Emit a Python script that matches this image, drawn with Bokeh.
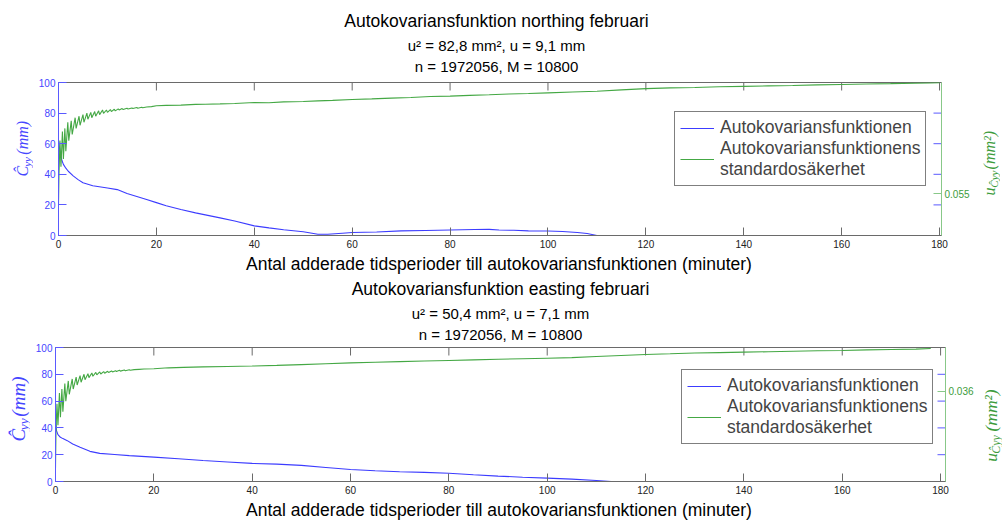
from math import pi
from bokeh.plotting import figure
from bokeh.models import Range1d, LinearAxis, FixedTicker, Label, Legend, LegendItem
from bokeh.layouts import column, row
from bokeh.embed import file_html
from bokeh.resources import INLINE

# ---------------- data ----------------
x_ticks = [0, 20, 40, 60, 80, 100, 120, 140, 160, 180]
y_ticks = [0, 20, 40, 60, 80, 100]
y_mirror_ticks = [20, 40, 60, 80]

top_titles = ["Autokovariansfunktion northing februari",
              "u\u00b2 = 82,8 mm\u00b2, u = 9,1 mm",
              "n = 1972056, M = 10800"]
bot_titles = ["Autokovariansfunktion easting februari",
              "u\u00b2 = 50,4 mm\u00b2, u = 7,1 mm",
              "n = 1972056, M = 10800"]
x_label = "Antal adderade tidsperioder till autokovariansfunktionen (minuter)"
legend_labels = ["Autokovariansfunktionen", "Autokovariansfunktionens\nstandardos\u00e4kerhet"]

top_right_ticks = [0.055]
bot_right_ticks = [0.036]

# top panel: autocovariance (mm)
top_bx = [0, 0.3, 0.7, 1, 1.5, 2, 3, 4, 5, 6, 7, 8, 10, 12, 14, 16, 18, 20, 22, 25,
          28, 30, 33, 36, 40, 43, 46, 50, 53, 55, 58, 60, 65, 70, 75, 80, 85, 88, 90, 93,
          96, 100, 103, 106, 108, 110]
top_b = [62, 55, 49, 46.5, 44, 42, 39, 36.5, 34.5, 33.5, 32.5, 32, 31, 30, 27.5, 25.5, 23.5, 21.5, 19.5, 17,
         14.8, 13.5, 11.5, 9.5, 6.3, 5, 3.8, 2.5, 0.8, 0.8, 1.5, 2, 2.3, 3, 3.3, 3.6, 3.9, 4, 3.6, 3.4,
         3, 2.9, 2.6, 2, 1.3, 0]

# top panel: standard uncertainty (mm^2)
top_gx = [0, 0.1, 0.3, 0.5, 0.8, 1.0, 1.3, 1.5, 1.9, 2.1,
          2.6, 2.8, 3.4, 3.6, 4.2, 4.4, 5.0, 5.2, 5.8, 6.0,
          6.6, 6.8, 7.4, 7.6, 8.2, 8.4, 9.0, 9.2, 9.8, 10.0,
          10.6, 10.8, 11.4, 11.6, 12.2, 12.4, 13.0, 13.2, 14, 14.2,
          15, 15.2, 16, 16.2, 17, 17.2,
          18, 19, 20, 22, 25, 28, 30, 33, 36, 40,
          43, 46, 50, 53, 56, 60, 64, 68, 72, 76,
          80, 84, 88, 92, 96, 100, 105, 110, 115, 120,
          125, 130, 135, 140, 145, 150, 155, 160, 165, 170,
          175, 178, 180]
top_g = [0.05366, 0.05732, 0.06135, 0.05824, 0.06244, 0.05915, 0.06281, 0.06007, 0.06354, 0.06135,
         0.06373, 0.06208, 0.06409, 0.06281, 0.06427, 0.06318, 0.06446, 0.06354, 0.06464, 0.06391,
         0.06473, 0.06409, 0.06482, 0.06427, 0.06491, 0.06446, 0.06501, 0.06460, 0.06501, 0.06473,
         0.06506, 0.06482, 0.06510, 0.06491, 0.06515, 0.06501, 0.06519, 0.06506, 0.06523, 0.06512,
         0.06526, 0.06519, 0.06530, 0.06523, 0.06534, 0.06528,
         0.06537, 0.06541, 0.06552, 0.06556, 0.06559, 0.06568, 0.06570, 0.06574, 0.06579, 0.06590,
         0.06588, 0.06598, 0.06603, 0.06610, 0.06616, 0.06627, 0.06634, 0.06643, 0.06651, 0.06662,
         0.06667, 0.06676, 0.06684, 0.06693, 0.06698, 0.06706, 0.06717, 0.06726, 0.06742, 0.06757,
         0.06766, 0.06771, 0.06779, 0.06784, 0.06790, 0.06795, 0.06801, 0.06806, 0.06812, 0.06817,
         0.06823, 0.06826, 0.06828]

# bottom panel: autocovariance (mm)
bot_bx = [0, 0.2, 0.5, 1, 1.5, 2.4, 3.5, 5, 7, 9, 12, 15, 20, 25, 30, 35, 40, 45, 50, 55,
          60, 65, 70, 75, 80, 85, 90, 95, 100, 105, 110, 113]
bot_b = [45, 38, 35, 33, 32, 30.5, 28, 25.5, 22.5, 21, 20.2, 19.3, 18.2, 17, 15.7, 14.6, 13.5, 13, 12, 10.5,
         9, 8, 7.3, 6.8, 6.2, 5, 4, 3.2, 2.5, 1.8, 0.7, 0]

# bottom panel: standard uncertainty (mm^2)
bot_gx = [0, 0.1, 0.3, 0.5, 0.8, 1.0, 1.3, 1.5, 1.9, 2.1,
          2.6, 2.8, 3.4, 3.6, 4.2, 4.4, 5.0, 5.2, 5.8, 6.0,
          6.6, 6.8, 7.4, 7.6, 8.2, 8.4, 9.0, 9.2, 9.8, 10.0,
          10.6, 10.8, 11.4, 11.6, 12.2, 12.4, 13, 13.2, 14, 14.2,
          15, 15.2,
          16, 17, 18, 20, 23, 26, 30, 35, 40, 45,
          50, 55, 60, 65, 70, 75, 80, 85, 90, 95,
          100, 105, 110, 115, 120, 125, 130, 135, 140, 145,
          150, 155, 160, 165, 170, 175, 178]
bot_g = [0.03089, 0.03338, 0.03516, 0.03374, 0.03587, 0.03427, 0.03614, 0.03463, 0.03650, 0.03534,
         0.03668, 0.03579, 0.03681, 0.03614, 0.03694, 0.03641, 0.03703, 0.03659, 0.03712, 0.03676,
         0.03716, 0.03690, 0.03721, 0.03699, 0.03725, 0.03708, 0.03728, 0.03714, 0.03730, 0.03719,
         0.03732, 0.03724, 0.03734, 0.03728, 0.03736, 0.03731, 0.03739, 0.03733, 0.03740, 0.03736,
         0.03742, 0.03739,
         0.03743, 0.03745, 0.03747, 0.03749, 0.03755, 0.03758, 0.03761, 0.03764, 0.03767, 0.03771,
         0.03776, 0.03782, 0.03788, 0.03792, 0.03796, 0.03800, 0.03804, 0.03808, 0.03812, 0.03815,
         0.03819, 0.03823, 0.03830, 0.03837, 0.03844, 0.03848, 0.03853, 0.03856, 0.03859, 0.03862,
         0.03865, 0.03868, 0.03870, 0.03874, 0.03877, 0.03879, 0.03883]

# ---------------- style ----------------
BLUE_LINE = "#3c3cff"
GREEN_LINE = "#44a844"
BLUE_AXIS = "#5a5aff"
BLUE_TEXT = "#4646ff"
GREEN_AXIS = "#88c888"
GREEN_TEXT = "#3c9c3c"
XAX = "#6a6a6a"
SANS = "Liberation Sans"
SERIF = "Liberation Serif"
TICK = 8
BASE_CORR = 0.29   # baseline correction, in em


def base_fig(w, h, **kw):
    return figure(width=w, height=h, output_backend="svg", toolbar_location=None,
                  x_axis_location=None, y_axis_location=None,
                  background_fill_color="white", border_fill_color="white", **kw)


def text_fig(w, h):
    f = base_fig(w, h, x_range=Range1d(0, w), y_range=Range1d(h, 0),
                 min_border=0, min_border_left=0, min_border_right=0,
                 min_border_top=0, min_border_bottom=0, outline_line_color=None)
    for g in f.grid:
        g.visible = False
    return f


def put(f, x, y, text, size, color="black", angle=0, align="center", font=SANS, style="normal"):
    c = BASE_CORR * size
    if angle == 0:
        y = y - c
    else:
        x = x - c
    f.add_layout(Label(x=x, y=y, text=text, angle=angle, text_align=align,
                       text_baseline="alphabetic", text_font_size=f"{size}px",
                       text_color=color, text_font=font, text_font_style=style))


def vlabel(f, base_x, start_y, pieces, color):
    y = start_y
    for text, size, shift, adv in pieces:
        put(f, base_x + shift, y, text, size, color=color, angle=pi / 2, align="left",
            font=SERIF, style="italic")
        y -= adv


def style_axis(ax, line_color, label_color, standoff):
    ax.major_tick_in = TICK
    ax.major_tick_out = 0
    ax.minor_tick_line_color = None
    ax.axis_line_color = line_color
    ax.major_tick_line_color = line_color
    ax.major_label_text_color = label_color
    ax.major_label_text_font_size = "10px"
    ax.major_label_text_font = SANS
    ax.major_label_standoff = standoff
    ax.axis_label_standoff = 0


def panel(cfg, bx, by, gx, gy, rrange, rticks):
    w, h, xmax = cfg["w"], cfg["h"], cfg["xmax"]
    p = base_fig(w, h, x_range=Range1d(0, xmax), y_range=Range1d(0, 100),
                 min_border_left=cfg["bl"], min_border_right=cfg["br"],
                 min_border_top=cfg["bt"], min_border_bottom=cfg["bb"],
                 outline_line_color=XAX)
    for g in p.grid:
        g.visible = False
    p.extra_y_ranges = {"u": Range1d(*rrange)}
    fw = w - cfg["bl"] - cfg["br"]
    fh = h - cfg["bt"] - cfg["bb"]
    tx = TICK * xmax / fw      # tick length in x data units
    ty = TICK * 100.0 / fh     # tick length in y data units

    bottom = LinearAxis(ticker=FixedTicker(ticks=x_ticks))
    style_axis(bottom, XAX, "#222222", 4)
    p.add_layout(bottom, "below")
    left = LinearAxis(ticker=FixedTicker(ticks=y_ticks))
    style_axis(left, BLUE_AXIS, BLUE_TEXT, 3)
    p.add_layout(left, "left")
    right = LinearAxis(y_range_name="u", ticker=FixedTicker(ticks=rticks))
    style_axis(right, GREEN_AXIS, GREEN_TEXT, 3)
    p.add_layout(right, "right")

    # box ticks: top edge (x ticks) and right edge (left-axis ticks mirrored)
    n = len(x_ticks)
    p.segment(x0=x_ticks, x1=x_ticks, y0=[100] * n, y1=[100 - ty] * n, line_color=XAX, line_width=1)
    m = len(y_mirror_ticks)
    p.segment(x0=[xmax] * m, x1=[xmax - tx] * m, y0=y_mirror_ticks, y1=y_mirror_ticks,
              line_color=BLUE_AXIS, line_width=1)

    rb = p.line(bx, by, line_color=BLUE_LINE, line_width=1.1)
    rg = p.line(gx, gy, line_color=GREEN_LINE, line_width=1.1, y_range_name="u")

    leg = Legend(items=[LegendItem(label=legend_labels[0], renderers=[rb]),
                        LegendItem(label=legend_labels[1], renderers=[rg])],
                 location=cfg["leg"])
    leg.border_line_color = "black"
    leg.border_line_width = 1
    leg.background_fill_color = "white"
    leg.background_fill_alpha = 1
    leg.label_text_font = SANS
    leg.label_text_font_size = "17.5px"
    leg.label_text_line_height = 1.1
    leg.glyph_width = 34
    leg.glyph_height = 20
    leg.label_height = 20
    leg.label_standoff = 6
    leg.padding = 5
    leg.spacing = 0
    leg.margin = 0
    p.add_layout(leg)
    return p


T1 = 17.5   # first title line font size
T2 = 15     # second and third title line font size
TSIZES = [T1, T2, T2]

# ---------------- layout ----------------
# titles of the top panel
fa = text_fig(1000, 77)
for t, b, s in zip(top_titles, [26, 49, 70], TSIZES):
    put(fa, 496, b, t, s)

# top panel row
top_cfg = dict(w=943, h=176, xmax=180.4, bl=25, br=35, bt=5, bb=18, leg=(616, 49))
p1 = panel(top_cfg, top_bx, top_b, top_gx, top_g, (0.0500, 0.0683), top_right_ticks)
l1 = text_fig(33, 176)
vlabel(l1, 27, 108, [("\u0108", 16, 0, 11), ("yy", 11, 2.5, 14), ("(mm)", 16, 0, 0)], BLUE_TEXT)
r1 = text_fig(24, 176)
vlabel(r1, 18, 130, [("u", 16, 0, 9), ("\u0108yy", 11, 2.5, 21), ("(mm\u00b2)", 16, 0, 0)], GREEN_TEXT)

# x label of the top panel and titles of the bottom panel
fc = text_fig(1000, 90)
put(fc, 498.5, 16, x_label, 17.5)
for t, b, s in zip(bot_titles, [41, 64, 85], TSIZES):
    put(fc, 500, b, t, s)

# bottom panel row
bot_cfg = dict(w=950, h=157, xmax=181.0, bl=25, br=35, bt=4, bb=19, leg=(626, 37))
p2 = panel(bot_cfg, bot_bx, bot_b, bot_gx, bot_g, (0.0300, 0.0389), bot_right_ticks)
l2 = text_fig(30, 157)
vlabel(l2, 24, 110, [("\u0108", 19, 0, 13), ("yy", 13.5, 2.5, 16), ("(mm)", 19, 0, 0)], BLUE_TEXT)
r2 = text_fig(22, 157)
vlabel(r2, 16, 134, [("u", 17.5, 0, 9.5), ("\u0108yy", 12, 2.5, 26), ("(mm\u00b2)", 17.5, 0, 0)], GREEN_TEXT)

# x label of the bottom panel
fd = text_fig(1000, 20)
put(fd, 498.5, 15, x_label, 17.5)

layout = column(fa, row(l1, p1, r1, spacing=0), fc, row(l2, p2, r2, spacing=0), fd, spacing=0)
open("out.html", "w").write(file_html(layout, INLINE))
